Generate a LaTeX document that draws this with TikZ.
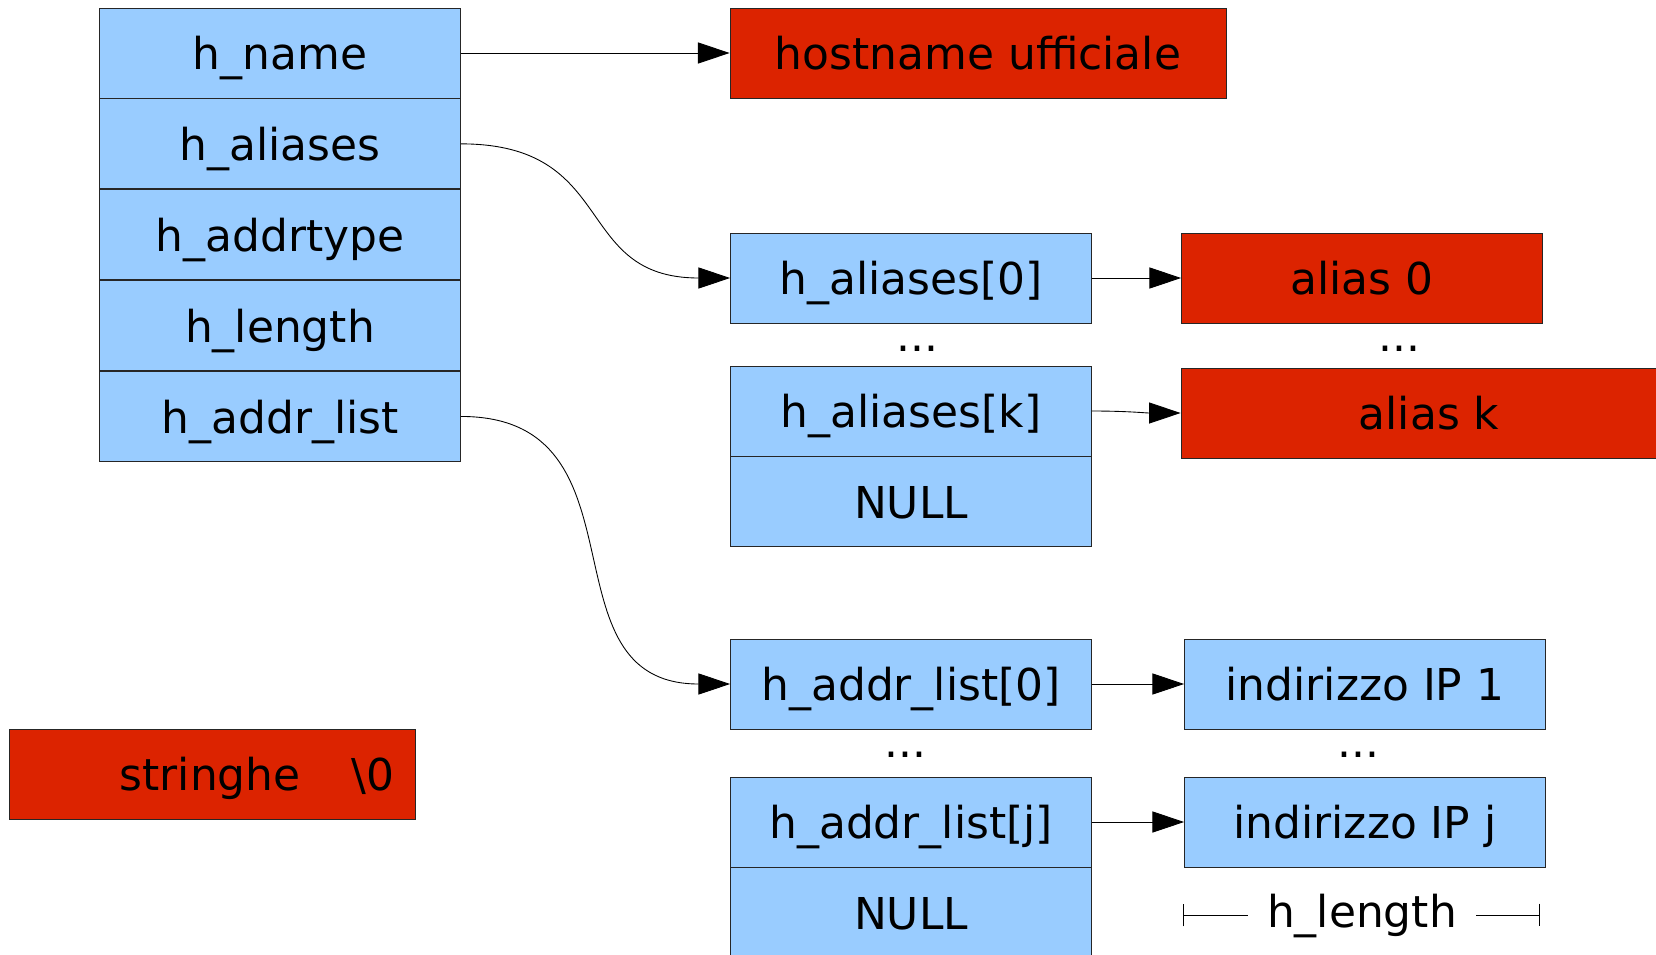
\documentclass[tikz,border=0pt]{standalone}
\usepackage{fontspec}
\setmainfont{DejaVu Sans}
\usetikzlibrary{positioning,arrows.meta}
\definecolor{cellblue}{HTML}{99CCFF}
\definecolor{strred}{HTML}{DC2300}
\tikzset{
    >={Triangle[length=18pt,width=12pt]},
    every edge/.style={draw,->,line width=0.5pt}
}

\begin{document}
\begin{tikzpicture}[x=0.02cm,y=-0.02cm,
                    font=\fontsize{25}{30}\selectfont,
                    every node/.style={text height=22pt,text depth=3pt},
                    field/.style={draw=black!85,fill=cellblue,line width=0.5pt,
                                  minimum width=7.22cm,minimum height=1.8cm,inner sep=0pt},
                    string/.style={draw=black!85,fill=strred,line width=0.5pt,
                                   minimum width=7.22cm,minimum height=1.8cm,inner sep=0pt}]
\useasboundingbox (0,0) rectangle (1656,954);

% struct hostent
\node[field] (name) at (280,53) {h\_name};
\node[field,below=0pt of name] (aliases) {h\_aliases};
\node[field,below=0pt of aliases] (addrtype) {h\_addrtype};
\node[field,below=0pt of addrtype] (length) {h\_length};
\node[field,below=0pt of length] (addrlist) {h\_addr\_list};

% official name
\node[string,minimum width=9.92cm] (official) at (978,53) {hostname ufficiale};

% alias vector
\node[field] (ali0) at (911,278) {h\_aliases[0]};
\node at (917,335) {...};
\node[field] (alik) at (911,411) {h\_aliases[k]};
\node[field,below=0pt of alik] (alinull) {NULL};
\node[string] (alias0) at (1362,278) {alias 0};
\node at (1399,335) {...};
\node[string,minimum width=9.92cm] (aliask) at (1429,413) {alias k};

% address vector
\node[field] (addr0) at (911,684) {h\_addr\_list[0]};
\node at (905,741) {...};
\node[field] (addrj) at (911,822) {h\_addr\_list[j]};
\node[field,below=0pt of addrj] (addrnull) {NULL};
\node[field] (ip1) at (1365,684) {indirizzo IP 1};
\node at (1358,741) {...};
\node[field] (ipj) at (1365,822) {indirizzo IP j};

% h_length
\coordinate (lenl) at (1183,915);
\coordinate (lenr) at (1540,915);
\node[inner xsep=0.38cm] (lentext) at (1362,911) {h\_length};
\draw[{Bar[width=13pt]}-,line width=0.5pt] (lenl) -- (lentext.west |- lenl);
\draw[-{Bar[width=13pt]},line width=0.5pt] (lentext.east |- lenr) -- (lenr);

% legend
\node[string,minimum width=8.12cm,text width=7.3cm,align=right] (legend) at (212,774)
    {stringhe\hspace{1.02cm}\textbackslash 0};

% pointers
\path (name) edge (official);
\path (aliases.east) edge [out=0,in=180,looseness=1.35] (ali0.west);
\path (addrlist.east) edge [out=0,in=180,looseness=1.3] (addr0.west);
\path (ali0) edge (alias0);
\path (alik.east) edge [out=0,in=180] (aliask.west);
\path (addr0) edge (ip1);
\path (addrj) edge (ipj);

\end{tikzpicture}
\end{document}
